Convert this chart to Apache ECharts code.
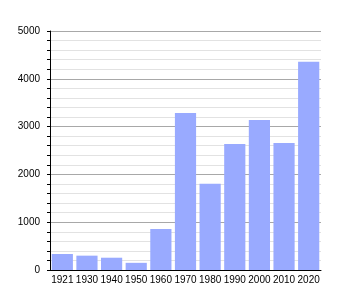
<!DOCTYPE html>
<html><head><meta charset="utf-8">
<script src="https://cdn.jsdelivr.net/npm/echarts@6/dist/echarts.min.js"></script>
<style>html,body{margin:0;padding:0;background:#fff}#c{width:350px;height:300px}</style>
</head><body><div id="c"></div>
<script>
const years = ['1921','1930','1940','1950','1960','1970','1980','1990','2000','2010','2020'];
const population = [335, 300, 257, 150, 858, 3285, 1806, 2636, 3138, 2657, 4358];
const yTicks = [0, 1000, 2000, 3000, 4000, 5000];

const chart = echarts.init(document.getElementById('c'), null, {renderer: 'canvas'});
chart.setOption({
  animation: false,
  grid: {left: 50, right: 29, top: 31, bottom: 30},
  xAxis: {
    type: 'category', data: years,
    axisLine: {lineStyle: {color: '#000', width: 1}},
    axisTick: {show: false},
    axisLabel: {color: '#000', fontSize: 10, fontFamily: 'Liberation Sans, Arial, sans-serif', margin: 5, interval: 0}
  },
  yAxis: {
    type: 'value', min: yTicks[0], max: yTicks[yTicks.length-1], interval: 1000,
    axisLine: {show: true, lineStyle: {color: '#000', width: 1}},
    axisTick: {show: true, length: 3, lineStyle: {color: '#000'}},
    minorTick: {show: true, splitNumber: 5, length: 3, lineStyle: {color: '#000'}},
    splitLine: {show: true, lineStyle: {color: '#a8a8a8', width: 1}},
    minorSplitLine: {show: true, lineStyle: {color: '#e2e2e2', width: 1}},
    axisLabel: {color: '#000', fontSize: 10, fontFamily: 'Liberation Sans, Arial, sans-serif', margin: 10,
      formatter: v => String(v)}
  },
  series: [{
    type: 'bar', data: population, barCategoryGap: '14%',
    itemStyle: {color: '#99aaff'}
  }]
});
</script></body></html>
